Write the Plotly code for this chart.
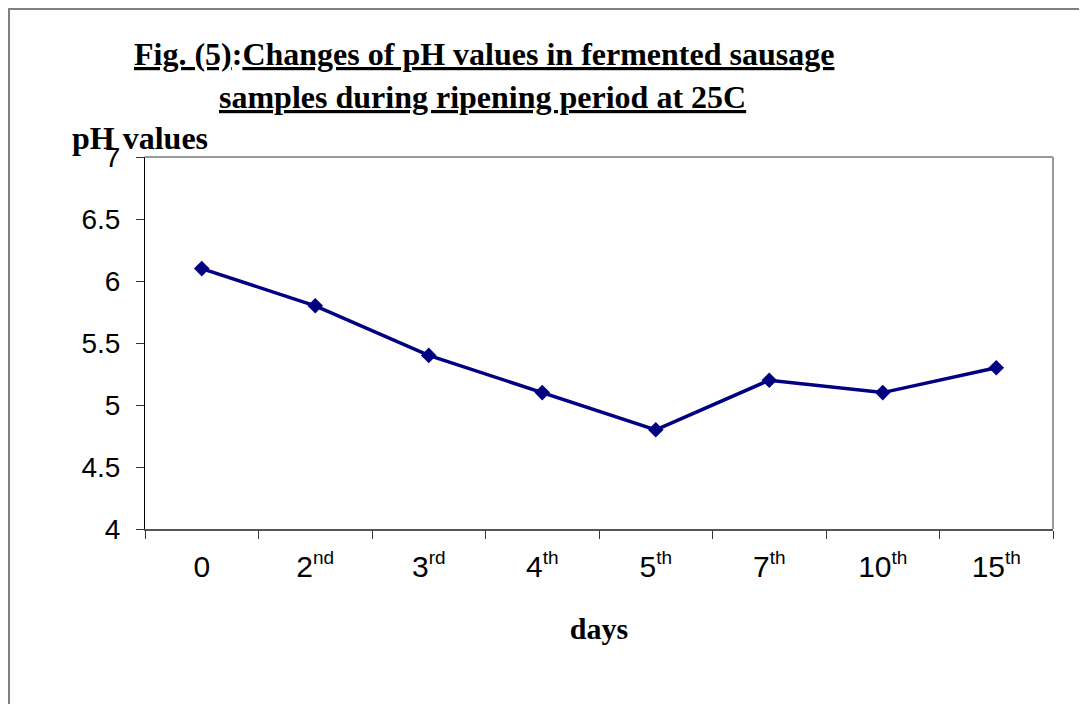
import plotly.graph_objects as go

SUP = '<sup><span style="font-size:19px">{}</span></sup>'
days = ["0", "2" + SUP.format("nd"), "3" + SUP.format("rd"), "4" + SUP.format("th"),
        "5" + SUP.format("th"), "7" + SUP.format("th"), "10" + SUP.format("th"),
        "15" + SUP.format("th")]
ph_values = [6.1, 5.8, 5.4, 5.1, 4.8, 5.2, 5.1, 5.3]
y_ticks = [4, 4.5, 5, 5.5, 6, 6.5, 7]

W, H = 1087, 704
OFF = 8  # page body offset
# desired page-pixel plot area
PL, PR, PT, PB = 145, 1053, 157, 529
L, T = PL - OFF, PT - OFF
pw, ph = PR - PL, PB - PT


def px(x):
    return (x - PL) / pw


def py(y):
    return (PB - y) / ph


fig = go.Figure()
fig.add_trace(go.Scatter(
    x=days, y=ph_values, mode="lines+markers",
    line=dict(color="#000080", width=3.5),
    marker=dict(symbol="diamond", size=12, color="#000080"),
    showlegend=False, cliponaxis=False,
))

fig.update_layout(
    width=W, height=H,
    margin=dict(l=L, r=W - L - pw, t=T, b=H - T - ph),
    paper_bgcolor="white", plot_bgcolor="white",
    font=dict(family="Liberation Sans, Arial", color="black"),
    xaxis=dict(
        type="category", range=[-0.5, 7.5],
        tickson="boundaries", ticks="outside", ticklen=8, tickcolor="#333",
        tickwidth=1, showline=True, linecolor="#555", linewidth=2,
        showgrid=False, zeroline=False,
        tickfont=dict(size=30, family="Liberation Sans, Arial"),
        ticklabelstandoff=10,
        title=dict(text="<b>days</b>", font=dict(size=30, family="Liberation Serif, Times New Roman"),
                   standoff=36),
    ),
    yaxis=dict(
        range=[4, 7], tickvals=y_ticks, ticktext=[f"{v:g}" for v in y_ticks],
        ticks="outside", ticklen=8, tickcolor="#333", tickwidth=1,
        showline=True, linecolor="black", linewidth=1,
        showgrid=False, zeroline=False,
        tickfont=dict(size=28, family="Liberation Sans, Arial"),
        ticklabelstandoff=10,
    ),
)

# plot-area top and right border (gray)
fig.add_shape(type="line", xref="paper", yref="paper", x0=0, x1=1, y0=1, y1=1,
              line=dict(color="#999999", width=2))
fig.add_shape(type="line", xref="paper", yref="paper", x0=1, x1=1, y0=0, y1=1,
              line=dict(color="#999999", width=2))

# outer chart border
fig.add_shape(type="rect", xref="paper", yref="paper",
              x0=px(9), x1=px(W + 20), y0=py(H + 20), y1=py(9),
              line=dict(color="#808080", width=2), fillcolor="rgba(0,0,0,0)", layer="below")

title_font = dict(size=32, family="Liberation Serif, Times New Roman", color="black")
fig.add_annotation(xref="paper", yref="paper", x=px(484), y=py(54),
                   text="<b><u>Fig. (5)</u>:<u>Changes of pH values in fermented sausage</u></b>",
                   showarrow=False, font=title_font, xanchor="center", yanchor="middle")
fig.add_annotation(xref="paper", yref="paper", x=px(482), y=py(97),
                   text="<b><u>samples during ripening period at 25C</u></b>",
                   showarrow=False, font=title_font, xanchor="center", yanchor="middle")
fig.add_annotation(xref="paper", yref="paper", x=px(70), y=py(138),
                   text="<b>pH values</b>",
                   showarrow=False, font=dict(size=32, family="Liberation Serif, Times New Roman"),
                   xanchor="left", yanchor="middle")

fig.write_html("out.html")
